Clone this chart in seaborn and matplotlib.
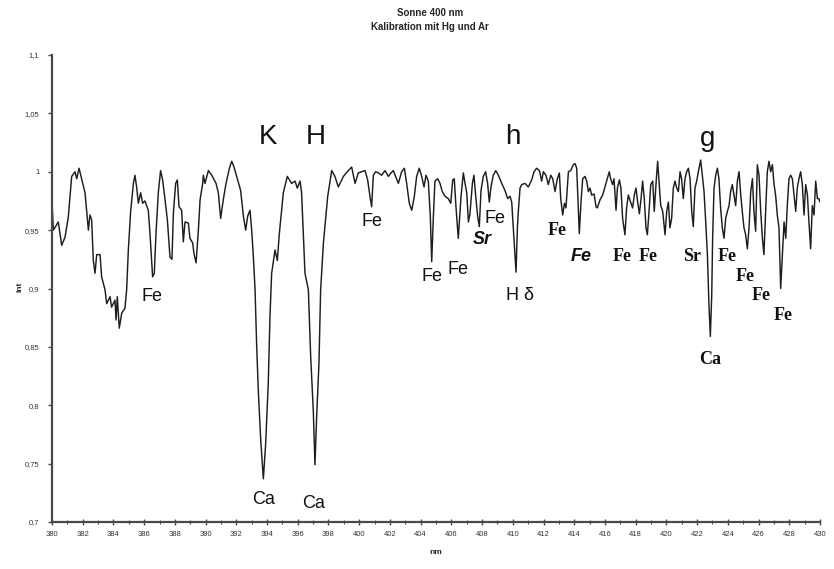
import matplotlib
matplotlib.use("Agg")
import matplotlib.pyplot as plt
import pandas as pd
import seaborn as sns
from matplotlib.ticker import FixedLocator, MultipleLocator

# ---------------- data ----------------
wavelength_nm = [
    380.00, 380.09, 380.41, 380.63, 380.85, 381.06, 381.28, 381.50, 381.61, 381.76,
    381.93, 382.15, 382.37, 382.47, 382.58, 382.69, 382.80, 382.91, 383.13, 383.23,
    383.45, 383.56, 383.78, 383.88, 384.10, 384.17, 384.25, 384.38, 384.54, 384.75,
    384.86, 384.97, 385.12, 385.30, 385.40, 385.51, 385.62, 385.77, 385.90, 386.05,
    386.27, 386.38, 386.55, 386.66, 386.77, 386.92, 387.07, 387.20, 387.36, 387.51,
    387.68, 387.81, 387.90, 388.05, 388.16, 388.27, 388.44, 388.55, 388.66, 388.88,
    388.98, 389.16, 389.24, 389.38, 389.53, 389.64, 389.81,
    389.85, 389.96, 390.18, 390.40, 390.68, 390.83, 390.98, 391.15, 391.33, 391.55,
    391.70, 391.85, 392.02, 392.28, 392.46, 392.61, 392.74, 392.89, 393.00, 393.11,
    393.22, 393.32, 393.43, 393.59, 393.76, 393.91, 394.08, 394.19, 394.30, 394.52,
    394.67, 394.80, 395.06, 395.32, 395.60, 395.82, 395.97, 396.15, 396.25, 396.47,
    396.69, 396.84, 397.01, 397.12, 397.23, 397.38, 397.49, 397.67, 397.95, 398.21,
    398.42, 398.64, 398.97, 399.29, 399.51,
    399.73, 399.94, 400.16, 400.38, 400.55, 400.70, 400.81, 400.92, 401.07, 401.25,
    401.46, 401.68, 401.90, 402.07, 402.22, 402.37, 402.55, 402.76, 402.94, 403.09,
    403.26, 403.42, 403.59, 403.74, 403.91, 404.07, 404.22, 404.35, 404.50, 404.63,
    404.72, 404.83, 404.93, 405.11, 405.26, 405.41, 405.59, 405.80, 405.96, 406.09,
    406.19, 406.30, 406.45, 406.63, 406.78, 406.89, 407.00, 407.11, 407.21, 407.37,
    407.47, 407.58, 407.71, 407.82, 407.93, 408.08, 408.23, 408.36, 408.47, 408.58,
    408.73, 408.89, 409.06, 409.28, 409.49, 409.67,
    409.82, 409.93, 410.03, 410.14, 410.21, 410.30, 410.36, 410.47, 410.58, 410.79,
    411.01, 411.23, 411.38, 411.55, 411.73, 411.88, 411.99, 412.16, 412.31, 412.47,
    412.60, 412.75, 412.90, 413.03, 413.12, 413.25, 413.36, 413.46, 413.62, 413.77,
    413.94, 414.05, 414.16, 414.27, 414.33, 414.44, 414.55, 414.70, 414.81, 414.92,
    415.03, 415.13, 415.29, 415.42, 415.50, 415.68, 415.85, 416.00, 416.11, 416.28,
    416.37, 416.50, 416.59, 416.72, 416.81, 416.94, 417.04, 417.15, 417.30, 417.41,
    417.52, 417.67, 417.80, 417.91, 418.02, 418.13, 418.24, 418.35, 418.45, 418.56,
    418.67, 418.76, 418.87, 418.98, 419.11, 419.21, 419.32, 419.43, 419.52, 419.63,
    419.76,
    419.91, 420.02, 420.13, 420.23, 420.34, 420.45, 420.56, 420.67, 420.78, 420.89,
    420.99, 421.10, 421.21, 421.32, 421.43, 421.54, 421.65, 421.75, 421.86, 421.97,
    422.08,
    422.23, 422.34, 422.45, 422.56, 422.67, 422.77, 422.86, 422.95, 423.01, 423.10,
    423.21, 423.32, 423.42, 423.53, 423.64, 423.75, 423.86, 423.97, 424.08, 424.18,
    424.29, 424.40, 424.51, 424.62, 424.73, 424.84, 424.94, 425.05, 425.16, 425.27,
    425.38, 425.49, 425.60, 425.70, 425.81, 425.92, 426.03, 426.14, 426.25, 426.35,
    426.46, 426.57, 426.68, 426.79, 426.90, 427.01, 427.11, 427.22, 427.33, 427.44,
    427.55, 427.66, 427.77, 427.87, 427.98, 428.09, 428.20, 428.31, 428.42, 428.52,
    428.63, 428.74, 428.85, 428.96, 429.07, 429.18, 429.28, 429.39, 429.50, 429.61,
    429.72, 429.83, 429.93, 430.00,
]

intensity = [
    0.974, 0.950, 0.957, 0.937, 0.944, 0.961, 0.996, 1.000, 0.994, 1.003,
    0.994, 0.982, 0.950, 0.963, 0.959, 0.924, 0.913, 0.929, 0.929, 0.910,
    0.899, 0.887, 0.893, 0.884, 0.890, 0.873, 0.893, 0.866, 0.879, 0.883,
    0.899, 0.933, 0.966, 0.990, 0.997, 0.987, 0.973, 0.982, 0.973, 0.975,
    0.967, 0.947, 0.910, 0.913, 0.947, 0.982, 1.001, 0.993, 0.976, 0.959,
    0.927, 0.925, 0.964, 0.990, 0.993, 0.970, 0.967, 0.940, 0.957, 0.956,
    0.943, 0.939, 0.930, 0.922, 0.950, 0.976, 0.990,
    0.997, 0.990, 1.001, 0.997, 0.990, 0.982, 0.960, 0.976, 0.990, 1.003,
    1.009, 1.004, 0.996, 0.984, 0.962, 0.950, 0.962, 0.967, 0.950, 0.927,
    0.899, 0.853, 0.813, 0.770, 0.737, 0.767, 0.819, 0.876, 0.913, 0.933,
    0.924, 0.947, 0.982, 0.996, 0.990, 0.992, 0.986, 0.992, 0.982, 0.913,
    0.899, 0.842, 0.796, 0.749, 0.790, 0.836, 0.899, 0.939, 0.979, 1.001,
    0.996, 0.987, 0.996, 1.001, 1.004,
    0.990, 0.999, 1.000, 1.001, 0.993, 0.979, 0.970, 0.997, 1.000, 0.999,
    0.997, 1.001, 0.996, 0.999, 1.001, 0.996, 0.990, 1.000, 1.003, 0.990,
    0.973, 0.967, 0.979, 0.996, 1.003, 0.996, 0.987, 0.997, 0.992, 0.962,
    0.923, 0.962, 0.992, 0.994, 0.990, 0.983, 0.979, 0.977, 0.973, 0.993,
    0.994, 0.970, 0.943, 0.979, 0.999, 0.990, 0.982, 0.957, 0.964, 0.990,
    0.997, 0.980, 0.962, 0.953, 0.984, 0.996, 1.000, 0.990, 0.974, 0.987,
    0.997, 1.001, 0.997, 0.990, 0.984, 0.977,
    0.979, 0.974, 0.952, 0.929, 0.914, 0.952, 0.966, 0.986, 0.989, 0.990,
    0.987, 0.993, 1.000, 1.003, 1.001, 0.992, 1.000, 0.997, 0.989, 0.997,
    0.994, 0.983, 0.994, 0.999, 0.977, 0.963, 0.973, 0.969, 1.000, 1.001,
    1.006, 1.007, 1.003, 0.966, 0.947, 0.974, 0.994, 0.996, 0.992, 0.983,
    0.986, 0.980, 0.981, 0.970, 0.969, 0.976, 0.980, 0.987, 0.992, 1.000,
    0.994, 0.989, 0.994, 0.967, 0.986, 0.993, 0.986, 0.960, 0.946, 0.969,
    0.980, 0.974, 0.969, 0.980, 0.986, 0.974, 0.964, 0.977, 0.992, 0.977,
    0.952, 0.946, 0.966, 0.989, 0.992, 0.966, 0.989, 1.009, 0.992, 0.971,
    0.966,
    0.946, 0.966, 0.974, 0.952, 0.960, 0.986, 0.992, 0.986, 0.983, 1.000,
    0.994, 0.977, 0.994, 1.000, 1.003, 0.994, 0.966, 0.953, 0.986, 0.992,
    1.000,
    1.010, 0.997, 0.983, 0.957, 0.929, 0.886, 0.859, 0.894, 0.943, 0.986,
    0.997, 1.003, 0.994, 0.969, 0.952, 0.943, 0.960, 0.966, 0.971, 0.983,
    0.989, 0.980, 0.971, 0.992, 1.000, 0.980, 0.966, 0.952, 0.946, 0.934,
    0.952, 0.983, 0.994, 0.966, 0.949, 1.006, 0.997, 0.966, 0.943, 0.929,
    0.966, 1.000, 1.009, 1.000, 1.006, 0.989, 0.980, 0.963, 0.952, 0.900,
    0.929, 0.957, 0.943, 0.971, 0.994, 0.997, 0.994, 0.980, 0.966, 0.986,
    0.994, 1.000, 0.989, 0.963, 0.989, 0.980, 0.957, 0.934, 0.971, 0.963,
    0.992, 0.977, 0.977, 0.974,
]

x_ticks = list(range(380, 431, 2))
y_ticks = [0.7, 0.75, 0.8, 0.85, 0.9, 0.95, 1.0, 1.05, 1.1]
y_tick_labels = ["0,7", "0,75", "0,8", "0,85", "0,9", "0,95", "1", "1,05", "1,1"]

title_lines = ["Sonne 400 nm", "Kalibration mit Hg und Ar"]
x_label = "nm"
y_label = "Int"

# line labels: text, wavelength, intensity, style-key
line_labels = [
    ("K", 394.06, 1.030, "big"),
    ("H", 397.19, 1.030, "big"),
    ("h", 410.01, 1.030, "big"),
    ("g", 422.71, 1.028, "big"),
    ("Ca", 393.80, 0.719, "sans"),
    ("Ca", 397.06, 0.716, "sans"),
    ("Fe", 386.51, 0.893, "sans"),
    ("Fe", 400.81, 0.957, "sans"),
    ("Fe", 404.72, 0.910, "sans"),
    ("Fe", 406.45, 0.916, "sans"),
    ("Sr", 408.04, 0.942, "sansbi"),
    ("Fe", 408.84, 0.960, "sans"),
    ("H \u03b4", 410.50, 0.894, "sans"),
    ("Fe", 412.86, 0.950, "serif"),
    ("Fe", 414.48, 0.927, "sansbi"),
    ("Fe", 417.09, 0.927, "serif"),
    ("Fe", 418.82, 0.927, "serif"),
    ("Sr", 421.64, 0.927, "serif"),
    ("Fe", 423.97, 0.927, "serif"),
    ("Fe", 425.10, 0.910, "serif"),
    ("Fe", 426.20, 0.894, "serif"),
    ("Fe", 427.57, 0.877, "serif"),
    ("Ca", 422.84, 0.839, "serif"),
]

label_styles = {
    "big": dict(fontsize=20, family=["Liberation Sans", "DejaVu Sans"]),
    "sans": dict(fontsize=13, family=["Liberation Sans", "DejaVu Sans"]),
    "sansbi": dict(fontsize=13, family=["Liberation Sans", "DejaVu Sans"],
                   fontweight="bold", fontstyle="italic"),
    "serif": dict(fontsize=13, family=["Liberation Serif", "DejaVu Serif"],
                  fontweight="bold"),
}

# ---------------- plotting ----------------
sns.set_style("white")
plt.rcParams["font.family"] = ["Liberation Sans", "DejaVu Sans"]

W, H = 834, 569
fig = plt.figure(figsize=(W / 100, H / 100), dpi=100)
fig.patch.set_facecolor("white")
ax = fig.add_axes([52 / W, 1 - 522 / H, (820 - 52) / W, (522 - 55) / H])

df = pd.DataFrame({"nm": wavelength_nm, "I": intensity})
sns.lineplot(data=df, x="nm", y="I", ax=ax, color="#1e1e1e", linewidth=1.05,
             estimator=None, sort=False)

ax.set_xlim(380, 430)
ax.set_ylim(0.7, 1.1)

for s in ("top", "right"):
    ax.spines[s].set_visible(False)
for s in ("left", "bottom"):
    ax.spines[s].set_color("#4a4a4a")
    ax.spines[s].set_linewidth(1.6)

ax.xaxis.set_major_locator(FixedLocator(x_ticks))
ax.xaxis.set_minor_locator(MultipleLocator(1))
ax.set_xticklabels([str(t) for t in x_ticks])
ax.yaxis.set_major_locator(FixedLocator(y_ticks))
ax.set_yticklabels(y_tick_labels)

ax.tick_params(axis="x", which="major", direction="inout", length=5, width=1,
               color="#4a4a4a", labelsize=5.5, labelcolor="#333333", pad=4, bottom=True)
ax.tick_params(axis="x", which="minor", direction="inout", length=3, width=0.8,
               color="#4a4a4a", bottom=True)
ax.tick_params(axis="y", which="major", direction="out", length=3, width=1,
               color="#4a4a4a", labelsize=5.5, labelcolor="#333333", pad=6, left=True)

ax.set_xlabel("")
ax.set_ylabel("")
fig.text(436 / W, 1 - 552 / H, x_label, ha="center", va="center",
         fontsize=6, fontweight="bold")
fig.text(20 / W, 1 - 287 / H, y_label, ha="center", va="center",
         fontsize=6, fontweight="bold", rotation=90)

fig.text(430 / W, 1 - 13 / H, title_lines[0], ha="center", va="center",
         fontsize=7, fontweight="bold")
fig.text(430 / W, 1 - 27 / H, title_lines[1], ha="center", va="center",
         fontsize=7, fontweight="bold")

for txt, xv, yv, key in line_labels:
    ax.text(xv, yv, txt, ha="center", va="center", color="#111111",
            **label_styles[key])

fig.savefig("out.png", dpi=100, facecolor="white")
